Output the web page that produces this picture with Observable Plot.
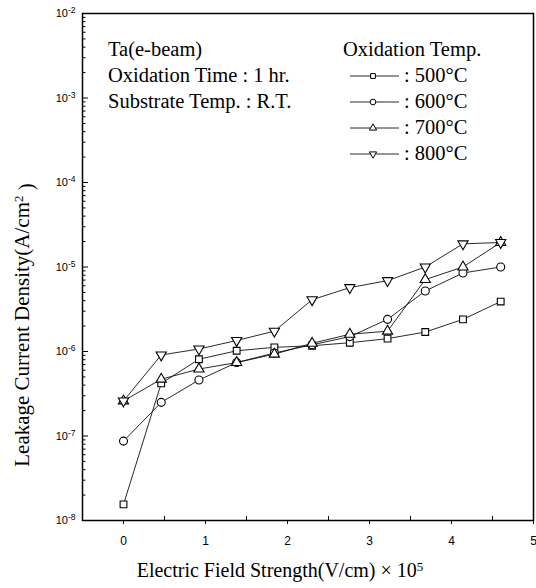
<!DOCTYPE html>
<html><head><meta charset="utf-8">
<script src="https://cdn.jsdelivr.net/npm/d3@7"></script>
<script src="https://cdn.jsdelivr.net/npm/@observablehq/plot@0.6"></script>
<style>body{margin:0;background:#fff}</style>
</head><body><div id="chart"></div>
<script>
// ---- data ----
const fields = [0, 0.46, 0.92, 1.38, 1.84, 2.3, 2.76, 3.22, 3.68, 4.14, 4.6];
const temps = ["500°C", "600°C", "700°C", "800°C"];
const j500 = [1.55e-8, 4.2e-7, 8.1e-7, 1.02e-6, 1.12e-6, 1.17e-6, 1.27e-6, 1.42e-6, 1.7e-6, 2.4e-6, 3.9e-6];
const j600 = [8.7e-8, 2.5e-7, 4.6e-7, 7.4e-7, 9.6e-7, 1.2e-6, 1.5e-6, 2.4e-6, 5.2e-6, 8.5e-6, 1.0e-5];
const j700 = [2.6e-7, 4.7e-7, 6.2e-7, 7.4e-7, 9.3e-7, 1.25e-6, 1.6e-6, 1.74e-6, 7.1e-6, 1.0e-5, 1.95e-5];
const j800 = [2.6e-7, 9.1e-7, 1.07e-6, 1.35e-6, 1.74e-6, 4.1e-6, 5.7e-6, 6.9e-6, 1.0e-5, 1.88e-5, 1.95e-5];
const xMajor = [0, 1, 2, 3, 4, 5];
const xMinor = [0.5, 1.5, 2.5, 3.5, 4.5];
const yMajor = [1e-8, 1e-7, 1e-6, 1e-5, 1e-4, 1e-3, 1e-2];
const annot = ["Ta(e-beam)", "Oxidation Time : 1 hr.", "Substrate Temp. : R.T."];
const legendTitle = "Oxidation Temp.";
const xTitle = "Electric Field Strength(V/cm) × 10";
const xTitleExp = "5";
const yTitle = "Leakage Current Density(A/cm";
const yTitleExp = "2";

// ---- build ----
const series = [j500, j600, j700, j800];
const yMinor = d3.scaleLog().domain([1e-8, 1e-2]).ticks().filter(v => !yMajor.some(m => Math.abs(m - v) / m < 1e-9));

const triDown = {
  draw(ctx, size) {
    const y = -Math.sqrt(size / (Math.sqrt(3) * 3));
    ctx.moveTo(0, -y * 2);
    ctx.lineTo(-Math.sqrt(3) * y, y);
    ctx.lineTo(Math.sqrt(3) * y, y);
    ctx.closePath();
  }
};
const symbols = ["square", "circle", "triangle", triDown];
const symbolD3 = [d3.symbolSquare, d3.symbolCircle, d3.symbolTriangle, triDown];
const radii = [3.8, 4, 3.8, 3.8];

const rows = temps.map((t, i) => fields.map((x, k) => ({temp: t, x, y: series[i][k]})));

const sans = "Liberation Sans, Arial, sans-serif";
const serif = "Liberation Serif, Times New Roman, serif";

const marks = [
  Plot.axisX({ticks: xMajor, tickSize: 4, tickPadding: 12, tickFormat: d3.format("d"), label: null, fontSize: 12, fontFamily: sans}),
  Plot.axisX({ticks: xMinor, tickSize: -4, tickFormat: () => "", label: null}),
  Plot.axisY({ticks: yMajor, tickSize: -6, tickFormat: () => "", label: null}),
  Plot.axisY({ticks: yMinor, tickSize: -3.5, tickFormat: () => "", label: null}),
  Plot.axisY({ticks: yMajor, tickSize: 0, tickPadding: 7, tickFormat: d => "10^" + Math.round(Math.log10(d)), label: null, fontSize: 11, fontFamily: sans}),
  Plot.frame({stroke: "black", strokeWidth: 1.5})
];
rows.forEach((r, i) => {
  marks.push(Plot.line(r, {x: "x", y: "y", stroke: "#111", strokeWidth: 0.9}));
});
rows.forEach((r, i) => {
  marks.push(Plot.dot(r, {x: "x", y: "y", symbol: symbols[i], r: radii[i], fill: "white", stroke: "black", strokeWidth: 1.1}));
});

const plot = Plot.plot({
  width: 536, height: 588,
  marginLeft: 82, marginRight: 3, marginTop: 13, marginBottom: 68,
  x: {domain: [-0.5, 5]},
  y: {type: "log", domain: [1e-8, 1e-2]},
  style: {background: "white", color: "black", overflow: "visible"},
  marks
});

const svg = d3.select(plot);
// superscript y tick labels
svg.selectAll("text").each(function() {
  const t = this.textContent;
  if (t.startsWith("10^")) {
    const e = t.slice(3);
    const sel = d3.select(this);
    sel.text("10");
    sel.append("tspan").attr("dy", "-0.45em").attr("font-size", 8.5).text(e);
  }
});

const g = svg.append("g").attr("font-family", serif).attr("font-size", 20.5).attr("fill", "black").attr("text-anchor", "start");
annot.forEach((s, i) => g.append("text").attr("x", 108).attr("y", 56 + i * 26).text(s));
g.append("text").attr("x", 343).attr("y", 56).text(legendTitle);
temps.forEach((t, i) => {
  const y = 82 + i * 26 - 6;
  g.append("line").attr("x1", 350).attr("x2", 399).attr("y1", y).attr("y2", y).attr("stroke", "#111").attr("stroke-width", 0.9);
  g.append("path").attr("transform", `translate(373,${y})`)
    .attr("d", d3.symbol(symbolD3[i], Math.PI * radii[i] * radii[i] * 0.5)())
    .attr("fill", "white").attr("stroke", "black").attr("stroke-width", 1);
  g.append("text").attr("x", 404).attr("y", 82 + i * 26).text(": " + t);
});

// axis titles
const xt = g.append("text").attr("x", 280).attr("y", 577).attr("text-anchor", "middle").attr("font-size", 20);
xt.append("tspan").text(xTitle);
xt.append("tspan").attr("dy", "-0.5em").attr("font-size", 13).text(xTitleExp);

const yt = g.append("text").attr("transform", "translate(29,325) rotate(-90)").attr("text-anchor", "middle").attr("font-size", 21);
yt.append("tspan").text(yTitle);
yt.append("tspan").attr("dy", "-0.5em").attr("font-size", 13).text(yTitleExp);
yt.append("tspan").attr("dy", "0.5em").text(" )");

document.getElementById("chart").appendChild(plot);
</script>
</body></html>
